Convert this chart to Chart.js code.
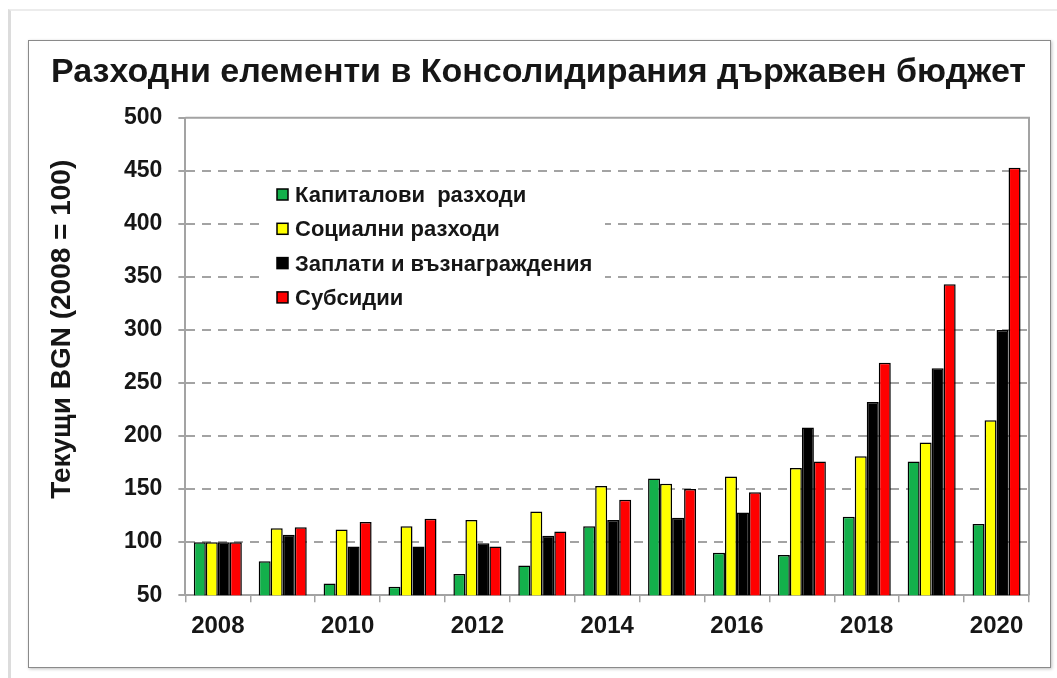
<!DOCTYPE html>
<html lang="bg">
<head>
<meta charset="utf-8">
<title>Разходни елементи в Консолидирания държавен бюджет</title>
<script src="https://cdn.jsdelivr.net/npm/chart.js@4/dist/chart.umd.min.js"></script>
<style>
  html, body { margin: 0; padding: 0; background: #fff; }
  body { width: 1057px; height: 678px; position: relative; overflow: hidden; }
  .outer {
    position: absolute; left: 8px; top: 9px; right: 0; bottom: 0;
    border-left: 3px solid #dcdcdc; border-top: 2px solid #ececec;
  }
  .frame {
    position: absolute; left: 28px; top: 40px; width: 1021px; height: 626px;
    border: 1.5px solid #8a8a8a; box-shadow: 1px 1px 3px rgba(0,0,0,0.25);
  }
  #chart { position: absolute; left: 0; top: 0; }
</style>
</head>
<body>
<div class="outer"></div>
<div class="frame"></div>
<canvas id="chart" width="1057" height="678"></canvas>
<script>
"use strict";

const years = ['2008', '2009', '2010', '2011', '2012', '2013', '2014',
               '2015', '2016', '2017', '2018', '2019', '2020'];

const capital   = [100, 82, 61, 58, 70, 78, 115, 160, 90, 88, 124, 176, 117];
const social    = [100, 113, 112, 115, 121, 129, 153, 155, 162, 170, 181, 194, 215];
const wages     = [100, 107, 96, 96, 99, 106, 121, 123, 128, 208, 232, 264, 300];
const subsidies = [100, 114, 119, 122, 96, 110, 140, 150, 147, 176, 269, 343, 453];

const seriesNames = ['Капиталови  разходи', 'Социални разходи',
                     'Заплати и възнаграждения', 'Субсидии'];
const seriesColors = ['#13b04b', '#ffff00', '#000000', '#ff0000'];

const FONT = "'Liberation Sans', Arial, sans-serif";
const GRID = '#a3a3a3';
const TEXT = '#161616';

// legend sits inside the plot, upper left, on a white patch over the grid
const insideLegend = {
  id: 'insideLegend',
  afterDatasetsDraw(chart) {
    const ctx = chart.ctx;
    ctx.save();
    ctx.fillStyle = '#fff';
    ctx.fillRect(265, 180, 340, 134);
    ctx.font = 'bold 22px ' + FONT;
    ctx.textBaseline = 'middle';
    chart.data.datasets.forEach((ds, i) => {
      const y = 195 + i * 34.3;
      ctx.fillStyle = ds.backgroundColor;
      ctx.fillRect(277, y - 6, 11, 11);
      ctx.lineWidth = 1.5;
      ctx.strokeStyle = '#000';
      ctx.strokeRect(277, y - 6, 11, 11);
      ctx.fillStyle = TEXT;
      ctx.fillText(ds.label, 295, y + 1);
    });
    ctx.restore();
  }
};

// solid top and right edges of the plot box
const plotBox = {
  id: 'plotBox',
  beforeDatasetsDraw(chart) {
    const {left, right, top, bottom} = chart.chartArea;
    const ctx = chart.ctx;
    ctx.save();
    ctx.strokeStyle = GRID;
    ctx.lineWidth = 2;
    ctx.beginPath();
    ctx.moveTo(left, top);
    ctx.lineTo(right, top);
    ctx.lineTo(right, bottom);
    ctx.stroke();
    ctx.restore();
  }
};

const data = {
  labels: years,
  datasets: [capital, social, wages, subsidies].map((values, i) => ({
    label: seriesNames[i],
    data: values,
    backgroundColor: seriesColors[i],
    borderColor: '#000',
    borderWidth: 1.5,
    categoryPercentage: 0.74,
    barPercentage: 1.0,
  })),
};

new Chart(document.getElementById('chart'), {
  type: 'bar',
  data: data,
  plugins: [plotBox, insideLegend],
  options: {
    responsive: false,
    animation: false,
    layout: { padding: { left: 48, right: 28, top: 0, bottom: 27 } },
    plugins: {
      legend: { display: false },
      tooltip: { enabled: false },
      title: {
        display: true,
        text: 'Разходни елементи в Консолидирания държавен бюджет',
        color: TEXT,
        font: { family: FONT, size: 34, weight: 'bold', lineHeight: 1.2 },
        padding: { top: 52, bottom: 25 },
      },
    },
    scales: {
      x: {
        grid: {
          offset: true,
          drawOnChartArea: false,
          color: GRID,
          lineWidth: 1.5,
          tickLength: 7,
        },
        border: { color: GRID, width: 2 },
        ticks: {
          autoSkip: false,
          maxRotation: 0,
          padding: 10,
          color: TEXT,
          font: { family: FONT, size: 24, weight: 'bold', lineHeight: 1.2 },
          callback: (value, index) => index % 2 === 0 ? years[index] : '',
        },
      },
      y: {
        min: 50,
        max: 500,
        ticks: {
          stepSize: 50,
          padding: 16,
          color: TEXT,
          font: { family: FONT, size: 23, weight: 'bold', lineHeight: 1.2 },
        },
        grid: {
          color: (c) => (c.tick && c.tick.value === 500) ? 'rgba(0,0,0,0)' : GRID,
          lineWidth: 2,
          tickLength: 7,
          tickColor: GRID,
          tickWidth: 2,
          tickBorderDash: [],
        },
        border: { color: GRID, width: 2, dash: [9, 7] },
        title: {
          display: true,
          // leading spaces lift the text a little above the axis middle, as in the source
          text: '       Текущи BGN (2008 = 100)',
          color: TEXT,
          font: { family: FONT, size: 28, weight: 'bold', lineHeight: 1.0 },
          padding: { top: 0, bottom: 32 },
        },
      },
    },
  },
});
</script>
</body>
</html>
